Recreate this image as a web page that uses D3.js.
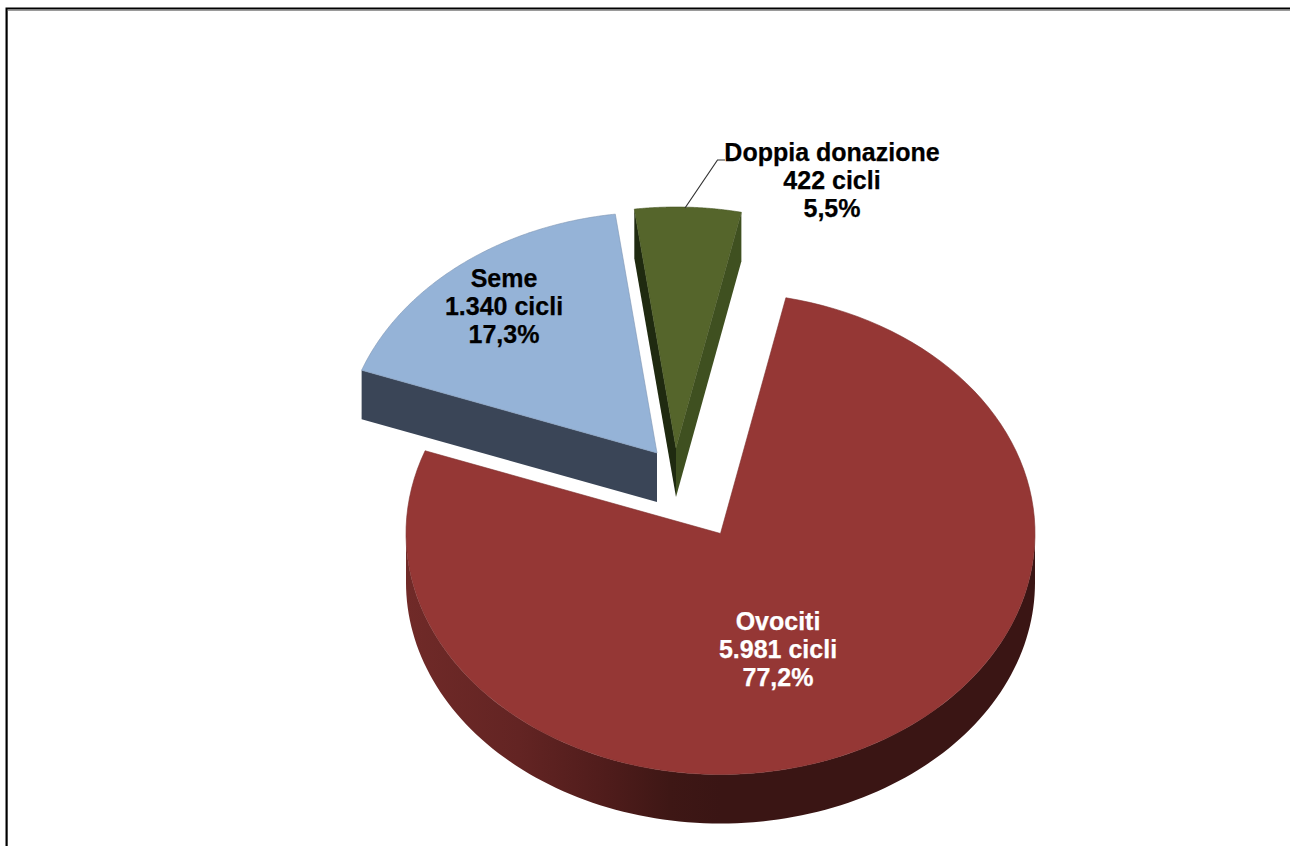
<!DOCTYPE html>
<html>
<head>
<meta charset="utf-8">
<script src="https://cdn.jsdelivr.net/npm/d3@7"></script>
<style>html,body{margin:0;padding:0;background:#fff;overflow:hidden}</style>
</head>
<body>
<svg id="c" width="1290" height="846"></svg>
<script>
// data
const categories = ["Ovociti", "Seme", "Doppia donazione"];
const cycles = [5981, 1340, 422];
const unit = "cicli";
const topColors = ["#953735", "#95b3d7", "#55652b"];
const labelColors = ["#ffffff", "#000000", "#000000"];

// layout
const W = 1290, H = 846;
const cx = 720.5, cy = 533.5, rx = 314.5, ry = 241, depth = 49;
const startDeg = 12;
const explode = [[0, 0], [-63.5, -80.5], [-44.5, -85.5]];
const labelAt = [[778, 630], [504, 287], [832, 161]];
const lineStep = 28;
const faceColors = [["#3a1514"], ["#3a4557"], ["#1f2a10", "#3f5020"]];

const svg = d3.select("#c");
const total = d3.sum(cycles);
const loc = d3.formatLocale({decimal: ",", thousands: ".", grouping: [3], currency: ["", ""]});
const fmtN = loc.format(",d"), fmtP = loc.format(".1f");

const pie = d3.pie().sort(null)
  .startAngle(startDeg * Math.PI / 180)
  .endAngle((startDeg + 360) * Math.PI / 180);
const arcs = pie(cycles);

const sx = d3.scaleLinear().domain([-1, 1]).range([cx - rx, cx + rx]);
const sy = d3.scaleLinear().domain([-1, 1]).range([cy - ry, cy + ry]);
const pt = (a, i, dz = 0) => [sx(Math.sin(a)) + explode[i][0], sy(-Math.cos(a)) + explode[i][1] + dz];
const apex = (i, dz = 0) => [sx(0) + explode[i][0], sy(0) + explode[i][1] + dz];
const line = d3.line();
const samples = (a0, a1) => d3.range(0, 121).map(k => a0 + (a1 - a0) * k / 120);

// frame
const frame = svg.append("g");
frame.append("path").attr("d", `M7.5 846V10.5H${W}`).attr("fill", "none").attr("stroke", "#9a9a9a").attr("stroke-width", 1);
frame.append("path").attr("d", `M6.5 846V8.5H${W}`).attr("fill", "none").attr("stroke", "#000").attr("stroke-width", 2);

// rim shading for the large slice
const defs = svg.append("defs");
const grad = defs.append("linearGradient").attr("id", "rim0").attr("gradientUnits", "userSpaceOnUse")
  .attr("x1", cx - rx).attr("x2", cx + rx).attr("y1", 0).attr("y2", 0);
[[0, "#702a28"], [0.18, "#632423"], [0.32, "#4f1c1b"], [0.42, "#3e1715"], [0.5, "#3a1514"], [1, "#3a1514"]]
  .forEach(s => grad.append("stop").attr("offset", s[0]).attr("stop-color", s[1]));

arcs.forEach((d, i) => {
  const g = svg.append("g").attr("class", "slice");
  const a0 = d.startAngle, a1 = d.endAngle;
  // front rim: only the part of the outer wall that faces the viewer
  const lo = Math.max(a0, Math.PI / 2), hi = Math.min(a1, 3 * Math.PI / 2);
  if (hi > lo) {
    const upper = samples(lo, hi).map(a => pt(a, i));
    const lower = samples(lo, hi).reverse().map(a => pt(a, i, depth));
    g.append("path").attr("d", line(upper.concat(lower)) + "Z").attr("fill", "url(#rim0)");
  }
  // cut faces that turn toward the viewer
  [[a0, 1], [a1, -1]].forEach(([a, side]) => {
    const c = apex(i), p = pt(a, i);
    const inner = pt((a0 + a1) / 2, i);
    const cross = (u, v) => (u[0] - c[0]) * (v[1] - c[1]) - (u[1] - c[1]) * (v[0] - c[0]);
    const dropped = [p[0], p[1] + depth];
    if (cross(p, inner) * cross(p, [p[0] + (c[0] - p[0]) * 0.5, p[1] + (c[1] - p[1]) * 0.5 + depth]) < 0) {
      const fill = faceColors[i].length > 1 ? faceColors[i][side > 0 ? 0 : 1] : faceColors[i][0];
      g.append("path").attr("d", line([c, p, dropped, apex(i, depth)]) + "Z").attr("fill", fill);
    }
  });
  // top face
  g.append("path")
    .attr("d", line([apex(i)].concat(samples(a0, a1).map(a => pt(a, i)))) + "Z")
    .attr("fill", topColors[i])
    .attr("stroke", d3.color(topColors[i]).darker(0.5)).attr("stroke-width", 0.6);
});

// leader line
const tip = pt((arcs[2].startAngle + arcs[2].endAngle) / 2 - 0.035, 2);
svg.append("path").attr("d", line([[tip[0] + 8, tip[1] + 1], [717.5, 160], [725, 160]]))
  .attr("fill", "none").attr("stroke", "#333").attr("stroke-width", 1.2);

// labels
categories.forEach((name, i) => {
  const rows = [name, `${fmtN(cycles[i])} ${unit}`, `${fmtP(cycles[i] / total * 100)}%`];
  const t = svg.append("text")
    .attr("text-anchor", "middle")
    .attr("font-family", "'Liberation Sans', Arial, sans-serif")
    .attr("font-weight", "bold").attr("font-size", 25)
    .attr("stroke", labelColors[i]).attr("stroke-width", 0.25)
    .attr("fill", labelColors[i]);
  rows.forEach((r, k) => t.append("tspan").attr("x", labelAt[i][0]).attr("y", labelAt[i][1] + k * lineStep).text(r));
});
</script>
</body>
</html>
